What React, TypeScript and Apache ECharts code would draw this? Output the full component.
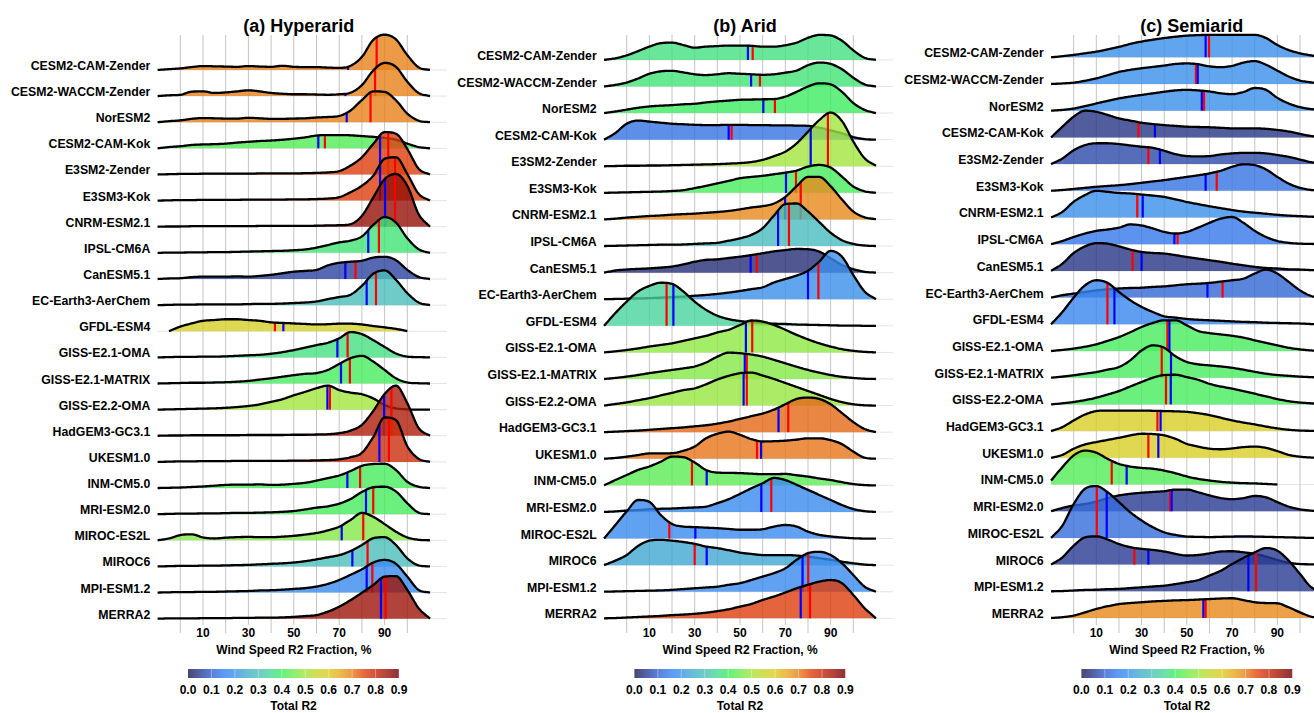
import React, { useEffect, useRef } from "react";
import * as echarts from "echarts";

const modelNames = [
  "CESM2-CAM-Zender", "CESM2-WACCM-Zender", "NorESM2", "CESM2-CAM-Kok", "E3SM2-Zender", "E3SM3-Kok",
  "CNRM-ESM2.1", "IPSL-CM6A", "CanESM5.1", "EC-Earth3-AerChem", "GFDL-ESM4", "GISS-E2.1-OMA",
  "GISS-E2.1-MATRIX", "GISS-E2.2-OMA", "HadGEM3-GC3.1", "UKESM1.0", "INM-CM5.0", "MRI-ESM2.0",
  "MIROC-ES2L", "MIROC6", "MPI-ESM1.2", "MERRA2",
];

const panelTitles = ["(a) Hyperarid", "(b) Arid", "(c) Semiarid"];
const xAxisTitle = "Wind Speed R2 Fraction, %";
const colorbarTitle = "Total R2";
const xTickLabels = [10, 30, 50, 70, 90];
const gridValues = [0, 10, 20, 30, 40, 50, 60, 70, 80, 90, 100];

// density sample positions (Wind Speed R2 Fraction, %)
const xSamples = [-10, -5, 0, 5, 10, 15, 20, 25, 30, 35, 40, 45, 50, 55, 60, 65, 70, 75, 80, 85, 90, 95, 100, 105, 110];

// ridge heights (in row units) at xSamples
const hyperaridDensity: (number | null)[][] = [
  [0, 0.03, 0.06, 0.11, 0.15, 0.14, 0.13, 0.12, 0.15, 0.13, 0.12, 0.16, 0.12, 0.11, 0.11, 0.09, 0.08, 0.16, 0.5, 1.15, 1.35, 1.17, 0.57, 0.1, 0],
  [0, 0.03, 0.05, 0.17, 0.18, 0.12, 0.14, 0.18, 0.22, 0.18, 0.12, 0.09, 0.07, 0.07, 0.06, 0.05, 0.07, 0.13, 0.42, 0.98, 1.27, 1.12, 0.55, 0.12, 0],
  [0, 0.04, 0.07, 0.13, 0.16, 0.15, 0.14, 0.14, 0.17, 0.15, 0.13, 0.13, 0.14, 0.15, 0.18, 0.2, 0.24, 0.45, 0.85, 1.18, 1.16, 0.84, 0.33, 0.06, 0],
  [0, 0.05, 0.08, 0.13, 0.15, 0.16, 0.18, 0.22, 0.25, 0.28, 0.3, 0.33, 0.37, 0.42, 0.49, 0.51, 0.51, 0.5, 0.47, 0.44, 0.4, 0.33, 0.18, 0.05, 0],
  [0, 0.01, 0.02, 0.02, 0.03, 0.03, 0.03, 0.03, 0.03, 0.04, 0.04, 0.04, 0.04, 0.05, 0.06, 0.08, 0.13, 0.34, 0.66, 1.17, 1.62, 1.56, 0.98, 0.22, 0],
  [0, 0.01, 0.02, 0.02, 0.03, 0.03, 0.03, 0.03, 0.04, 0.04, 0.04, 0.04, 0.05, 0.05, 0.06, 0.08, 0.13, 0.32, 0.57, 0.95, 1.6, 1.66, 1.02, 0.26, 0],
  [0, 0.01, 0.01, 0.02, 0.02, 0.02, 0.02, 0.02, 0.02, 0.03, 0.03, 0.03, 0.03, 0.03, 0.04, 0.05, 0.06, 0.1, 0.42, 1.12, 1.82, 2.02, 1.57, 0.48, 0],
  [0, 0.01, 0.01, 0.02, 0.02, 0.03, 0.03, 0.04, 0.05, 0.06, 0.07, 0.08, 0.1, 0.13, 0.2, 0.3, 0.4, 0.47, 0.63, 1.07, 1.37, 1.16, 0.56, 0.14, 0],
  [0, 0.02, 0.03, 0.07, 0.09, 0.09, 0.09, 0.1, 0.09, 0.12, 0.16, 0.22, 0.28, 0.31, 0.35, 0.52, 0.62, 0.66, 0.7, 0.82, 0.85, 0.72, 0.35, 0.08, 0],
  [0, 0.01, 0.02, 0.02, 0.03, 0.03, 0.03, 0.03, 0.04, 0.05, 0.05, 0.06, 0.08, 0.1, 0.14, 0.23, 0.31, 0.4, 0.74, 1.2, 1.33, 0.97, 0.46, 0.1, 0],
  [null, 0, 0.18, 0.3, 0.4, 0.43, 0.46, 0.46, 0.43, 0.4, 0.34, 0.32, 0.3, 0.28, 0.26, 0.27, 0.29, 0.29, 0.26, 0.2, 0.15, 0.09, 0.01, null, null],
  [0, 0.01, 0.02, 0.02, 0.03, 0.03, 0.04, 0.06, 0.08, 0.1, 0.14, 0.2, 0.28, 0.37, 0.47, 0.56, 0.73, 0.97, 0.89, 0.66, 0.4, 0.15, 0.03, 0.01, 0],
  [0, 0.01, 0.02, 0.03, 0.03, 0.04, 0.05, 0.07, 0.1, 0.15, 0.2, 0.26, 0.32, 0.37, 0.4, 0.52, 0.75, 0.97, 1.06, 0.84, 0.52, 0.2, 0.04, 0.01, 0],
  [0, 0.01, 0.02, 0.03, 0.04, 0.05, 0.07, 0.1, 0.14, 0.2, 0.3, 0.4, 0.55, 0.68, 0.82, 0.92, 0.75, 0.65, 0.59, 0.43, 0.18, 0.05, 0.01, 0, 0],
  [0, 0.01, 0.01, 0.02, 0.02, 0.02, 0.02, 0.02, 0.03, 0.03, 0.03, 0.03, 0.04, 0.04, 0.05, 0.06, 0.1, 0.2, 0.42, 0.95, 1.6, 1.92, 1.25, 0.3, 0],
  [0, 0.01, 0.02, 0.02, 0.03, 0.03, 0.03, 0.04, 0.04, 0.04, 0.04, 0.04, 0.05, 0.05, 0.06, 0.07, 0.1, 0.18, 0.35, 0.95, 1.7, 1.6, 0.6, 0.12, 0],
  [0, 0.01, 0.02, 0.04, 0.06, 0.09, 0.12, 0.13, 0.13, 0.14, 0.12, 0.13, 0.16, 0.2, 0.28, 0.38, 0.48, 0.65, 0.85, 0.92, 0.93, 0.69, 0.24, 0.05, 0],
  [0, 0.01, 0.02, 0.02, 0.03, 0.03, 0.04, 0.05, 0.05, 0.06, 0.07, 0.09, 0.12, 0.18, 0.25, 0.3, 0.4, 0.58, 0.85, 1.03, 1.05, 0.87, 0.42, 0.06, 0],
  [0, 0.07, 0.2, 0.23, 0.11, 0.07, 0.1, 0.12, 0.13, 0.12, 0.12, 0.14, 0.17, 0.22, 0.28, 0.38, 0.52, 0.78, 1.05, 0.9, 0.62, 0.33, 0.11, 0.02, 0],
  [0, 0.01, 0.02, 0.02, 0.03, 0.03, 0.04, 0.05, 0.06, 0.08, 0.1, 0.12, 0.15, 0.2, 0.27, 0.35, 0.43, 0.59, 0.82, 1.08, 1.12, 0.82, 0.31, 0.04, 0],
  [0, 0.01, 0.02, 0.02, 0.03, 0.03, 0.04, 0.05, 0.06, 0.08, 0.09, 0.11, 0.14, 0.17, 0.23, 0.33, 0.48, 0.68, 0.89, 1.15, 1.25, 1.1, 0.61, 0.1, 0],
  [0, 0.01, 0.01, 0.01, 0.02, 0.02, 0.02, 0.03, 0.03, 0.04, 0.04, 0.05, 0.07, 0.1, 0.14, 0.27, 0.46, 0.71, 0.99, 1.29, 1.61, 1.63, 1.1, 0.4, 0],
];
const hyperaridR2 = [0.7, 0.7, 0.7, 0.42, 0.76, 0.76, 0.86, 0.38, 0.06, 0.3, 0.58, 0.37, 0.41, 0.5, 0.83, 0.79, 0.41, 0.41, 0.47, 0.3, 0.18, 0.85];
const hyperaridRed = [86.5, 85.8, 83.8, 63.7, 91.6, 94.6, 94.6, 87.5, 77.2, 86.2, 41.7, 73.7, 74.7, 65.9, 93, 91.9, 79.2, 85, 80.6, 82.5, 84.6, 90.5];
const hyperaridBlue = [73.9, 72.7, 73.3, 60.8, 88, 88, 90.2, 82.8, 72.7, 82.1, 45.4, 69.2, 70.8, 64.8, 89.8, 87.7, 73.6, 81.8, 71.1, 75.8, 82.1, 88.4];

const aridDensity: (number | null)[][] = [
  [0, 0.06, 0.17, 0.33, 0.5, 0.63, 0.65, 0.56, 0.46, 0.5, 0.52, 0.54, 0.54, 0.53, 0.5, 0.5, 0.55, 0.65, 0.83, 0.94, 0.92, 0.72, 0.36, 0.08, 0],
  [0, 0.06, 0.15, 0.3, 0.48, 0.57, 0.59, 0.53, 0.46, 0.43, 0.46, 0.5, 0.48, 0.46, 0.44, 0.46, 0.52, 0.6, 0.8, 0.9, 0.85, 0.65, 0.33, 0.08, 0],
  [0, 0.06, 0.13, 0.2, 0.25, 0.28, 0.3, 0.33, 0.35, 0.4, 0.44, 0.47, 0.5, 0.51, 0.52, 0.53, 0.62, 0.8, 1.0, 1.12, 1.08, 0.8, 0.38, 0.12, 0],
  [0, 0.25, 0.6, 0.72, 0.68, 0.64, 0.6, 0.58, 0.56, 0.55, 0.55, 0.56, 0.56, 0.55, 0.55, 0.54, 0.54, 0.53, 0.52, 0.45, 0.35, 0.24, 0.1, 0.02, 0],
  [0, 0.01, 0.02, 0.02, 0.03, 0.03, 0.04, 0.05, 0.06, 0.07, 0.08, 0.1, 0.12, 0.16, 0.24, 0.38, 0.55, 0.86, 1.3, 1.74, 2.02, 1.7, 0.93, 0.3, 0.02],
  [0, 0.01, 0.02, 0.03, 0.04, 0.05, 0.07, 0.1, 0.18, 0.26, 0.36, 0.45, 0.55, 0.6, 0.64, 0.7, 0.76, 0.84, 0.99, 1.05, 0.95, 0.61, 0.24, 0.06, 0],
  [0, 0.03, 0.07, 0.1, 0.13, 0.15, 0.18, 0.2, 0.22, 0.25, 0.28, 0.32, 0.38, 0.45, 0.5, 0.6, 0.85, 1.25, 1.6, 1.6, 1.25, 0.75, 0.3, 0.08, 0.01],
  [0, 0.01, 0.02, 0.03, 0.04, 0.05, 0.05, 0.06, 0.08, 0.1, 0.12, 0.2, 0.29, 0.42, 0.67, 1.15, 1.58, 1.6, 1.3, 0.9, 0.5, 0.22, 0.08, 0.02, 0],
  [0, 0.08, 0.12, 0.14, 0.16, 0.19, 0.23, 0.31, 0.41, 0.48, 0.5, 0.55, 0.6, 0.66, 0.73, 0.8, 0.85, 0.89, 0.88, 0.79, 0.54, 0.29, 0.13, 0.03, 0],
  [0, 0.01, 0.02, 0.03, 0.04, 0.06, 0.08, 0.1, 0.13, 0.16, 0.2, 0.25, 0.31, 0.38, 0.45, 0.63, 0.76, 0.89, 1.07, 1.42, 1.82, 1.6, 0.91, 0.29, 0],
  [0, 0.48, 0.91, 1.29, 1.5, 1.62, 1.58, 1.29, 0.91, 0.6, 0.38, 0.25, 0.18, 0.13, 0.1, 0.08, 0.07, 0.05, 0.04, 0.03, 0.02, 0.01, 0.01, 0, 0],
  [0, 0.04, 0.09, 0.15, 0.22, 0.28, 0.34, 0.43, 0.53, 0.62, 0.75, 0.85, 1.03, 1.2, 1.16, 1.03, 0.85, 0.66, 0.49, 0.34, 0.22, 0.12, 0.06, 0.02, 0],
  [0, 0.04, 0.09, 0.15, 0.22, 0.28, 0.34, 0.4, 0.47, 0.62, 0.84, 0.99, 0.97, 0.92, 0.84, 0.72, 0.59, 0.46, 0.34, 0.24, 0.15, 0.08, 0.04, 0.01, 0],
  [0, 0.06, 0.12, 0.2, 0.28, 0.38, 0.48, 0.58, 0.65, 0.8, 0.98, 1.12, 1.22, 1.24, 1.13, 1.0, 0.85, 0.7, 0.55, 0.4, 0.25, 0.13, 0.05, 0.01, 0],
  [0, 0.02, 0.04, 0.06, 0.09, 0.12, 0.15, 0.18, 0.22, 0.26, 0.32, 0.4, 0.5, 0.6, 0.7, 0.85, 1.05, 1.25, 1.3, 1.25, 1.05, 0.72, 0.38, 0.12, 0],
  [0, 0.03, 0.08, 0.14, 0.2, 0.2, 0.21, 0.3, 0.46, 0.77, 0.94, 1.02, 0.9, 0.74, 0.65, 0.66, 0.68, 0.72, 0.77, 0.77, 0.7, 0.55, 0.27, 0.04, 0],
  [0, 0.2, 0.39, 0.58, 0.71, 0.89, 1.08, 1.06, 0.86, 0.58, 0.48, 0.47, 0.46, 0.44, 0.42, 0.42, 0.43, 0.38, 0.33, 0.26, 0.2, 0.12, 0.05, 0.01, 0],
  [0, 0.02, 0.05, 0.07, 0.1, 0.12, 0.13, 0.15, 0.17, 0.2, 0.33, 0.48, 0.68, 0.89, 1.08, 1.28, 1.2, 1.02, 0.83, 0.64, 0.45, 0.26, 0.11, 0.03, 0],
  [0, 0.51, 1.02, 1.45, 1.38, 0.89, 0.55, 0.45, 0.43, 0.41, 0.39, 0.36, 0.33, 0.33, 0.35, 0.45, 0.51, 0.45, 0.26, 0.14, 0.08, 0.04, 0.01, 0, 0],
  [0, 0.17, 0.38, 0.72, 0.92, 0.95, 0.92, 0.87, 0.8, 0.7, 0.64, 0.56, 0.47, 0.42, 0.38, 0.38, 0.38, 0.36, 0.32, 0.26, 0.2, 0.13, 0.07, 0.02, 0],
  [0, 0.01, 0.02, 0.03, 0.04, 0.05, 0.07, 0.1, 0.13, 0.16, 0.19, 0.26, 0.32, 0.44, 0.57, 0.7, 0.88, 1.2, 1.45, 1.5, 1.38, 1.07, 0.63, 0.19, 0],
  [0, 0.01, 0.03, 0.05, 0.07, 0.09, 0.12, 0.14, 0.17, 0.21, 0.27, 0.34, 0.44, 0.54, 0.69, 0.82, 0.97, 1.13, 1.26, 1.38, 1.44, 1.32, 0.88, 0.38, 0],
];
const aridR2 = [0.37, 0.38, 0.4, 0.13, 0.5, 0.41, 0.69, 0.29, 0.03, 0.19, 0.34, 0.48, 0.47, 0.49, 0.72, 0.71, 0.43, 0.18, 0.18, 0.24, 0.18, 0.76];
const aridRed = [55.6, 58.8, 65.4, 46.3, 88.8, 74.7, 76.8, 71.6, 57.4, 84.6, 17.6, 55.4, 53, 53, 71.3, 57.5, 28.8, 63.8, 18.8, 30, 80.1, 80.9];
const aridBlue = [53.5, 54.9, 60.3, 45, 81.2, 70.3, 69.9, 66.8, 54.7, 80, 20.6, 52.6, 52.1, 51.6, 67, 59.3, 35.3, 59.4, 30.3, 35.3, 77.6, 76.8];

const semiaridDensity: (number | null)[][] = [
  [0, 0.04, 0.09, 0.15, 0.21, 0.3, 0.39, 0.5, 0.59, 0.66, 0.72, 0.77, 0.81, 0.83, 0.84, 0.84, 0.84, 0.84, 0.84, 0.72, 0.46, 0.27, 0.15, 0.07, 0.02],
  [0, 0.02, 0.05, 0.12, 0.21, 0.33, 0.45, 0.53, 0.59, 0.64, 0.69, 0.75, 0.77, 0.74, 0.66, 0.63, 0.68, 0.8, 0.86, 0.72, 0.5, 0.28, 0.13, 0.06, 0.02],
  [0, 0.03, 0.08, 0.17, 0.27, 0.37, 0.46, 0.53, 0.59, 0.65, 0.71, 0.76, 0.78, 0.76, 0.72, 0.65, 0.62, 0.7, 0.85, 0.78, 0.48, 0.27, 0.13, 0.06, 0.02],
  [0, 0.4, 0.78, 1.0, 0.96, 0.84, 0.71, 0.63, 0.55, 0.5, 0.46, 0.43, 0.4, 0.39, 0.38, 0.36, 0.34, 0.34, 0.34, 0.32, 0.28, 0.22, 0.13, 0.05, 0.01],
  [0, 0.21, 0.52, 0.71, 0.78, 0.78, 0.75, 0.7, 0.65, 0.61, 0.5, 0.37, 0.3, 0.29, 0.3, 0.36, 0.4, 0.42, 0.42, 0.4, 0.34, 0.27, 0.17, 0.07, 0.02],
  [0, 0.03, 0.07, 0.11, 0.15, 0.18, 0.21, 0.25, 0.3, 0.35, 0.4, 0.46, 0.52, 0.58, 0.65, 0.75, 0.9, 0.99, 0.96, 0.8, 0.52, 0.27, 0.11, 0.03, 0.01],
  [0, 0.21, 0.59, 0.84, 1.0, 0.96, 0.92, 0.9, 0.86, 0.82, 0.77, 0.68, 0.58, 0.5, 0.42, 0.35, 0.28, 0.22, 0.18, 0.14, 0.1, 0.07, 0.05, 0.03, 0.02],
  [0, 0.12, 0.27, 0.4, 0.5, 0.55, 0.62, 0.74, 0.7, 0.59, 0.46, 0.4, 0.46, 0.62, 0.8, 0.96, 1.02, 0.8, 0.5, 0.27, 0.12, 0.05, 0.02, 0.01, 0],
  [0, 0.27, 0.67, 0.92, 1.04, 1.02, 0.92, 0.8, 0.71, 0.67, 0.65, 0.59, 0.52, 0.46, 0.4, 0.34, 0.27, 0.21, 0.15, 0.11, 0.09, 0.06, 0.05, 0.03, 0.02],
  [0, 0.09, 0.15, 0.21, 0.27, 0.31, 0.34, 0.36, 0.37, 0.4, 0.42, 0.46, 0.5, 0.52, 0.55, 0.6, 0.65, 0.71, 0.9, 1.05, 0.9, 0.59, 0.27, 0.06, 0.01],
  [0, 0.46, 1.0, 1.46, 1.65, 1.55, 1.21, 0.9, 0.65, 0.46, 0.3, 0.25, 0.2, 0.17, 0.15, 0.13, 0.11, 0.09, 0.08, 0.06, 0.05, 0.04, 0.03, 0.01, 0],
  [0, 0.04, 0.09, 0.16, 0.25, 0.38, 0.52, 0.7, 0.9, 1.05, 1.15, 1.15, 0.96, 0.75, 0.67, 0.62, 0.57, 0.5, 0.4, 0.3, 0.21, 0.12, 0.06, 0.02, 0],
  [0, 0.04, 0.09, 0.15, 0.21, 0.3, 0.4, 0.65, 1.02, 1.21, 1.12, 0.8, 0.59, 0.5, 0.46, 0.42, 0.37, 0.3, 0.22, 0.15, 0.1, 0.07, 0.04, 0.02, 0],
  [0, 0.04, 0.09, 0.16, 0.25, 0.37, 0.5, 0.67, 0.84, 1.0, 1.1, 1.11, 1.02, 0.92, 0.77, 0.67, 0.59, 0.5, 0.4, 0.3, 0.2, 0.12, 0.07, 0.04, 0.01],
  [0, 0.15, 0.4, 0.62, 0.75, 0.77, 0.77, 0.77, 0.77, 0.76, 0.75, 0.74, 0.72, 0.67, 0.6, 0.5, 0.4, 0.32, 0.25, 0.17, 0.1, 0.05, 0.02, 0.01, 0],
  [0, 0.11, 0.34, 0.5, 0.59, 0.67, 0.75, 0.84, 0.9, 0.89, 0.84, 0.71, 0.52, 0.42, 0.34, 0.32, 0.35, 0.4, 0.42, 0.37, 0.25, 0.11, 0.04, 0.01, 0],
  [0.15, 0.65, 1.09, 1.27, 1.19, 0.96, 0.77, 0.67, 0.62, 0.59, 0.52, 0.42, 0.3, 0.21, 0.15, 0.1, 0.07, 0.05, 0.04, 0.02, 0, null, null, null, null],
  [0, 0.12, 0.21, 0.27, 0.36, 0.49, 0.59, 0.65, 0.69, 0.72, 0.75, 0.81, 0.81, 0.71, 0.59, 0.49, 0.45, 0.49, 0.57, 0.52, 0.34, 0.17, 0.07, 0.02, 0],
  [0, 0.46, 1.27, 1.84, 1.94, 1.71, 1.34, 0.96, 0.65, 0.4, 0.21, 0.11, 0.05, 0.04, 0.03, 0.04, 0.05, 0.06, 0.05, 0.04, 0.03, 0.02, 0.01, 0, 0],
  [0, 0.27, 0.71, 1.02, 1.06, 0.94, 0.77, 0.65, 0.59, 0.55, 0.49, 0.4, 0.34, 0.36, 0.42, 0.49, 0.5, 0.46, 0.4, 0.3, 0.17, 0.07, 0.02, 0.01, 0],
  [0, 0.01, 0.03, 0.05, 0.06, 0.08, 0.09, 0.12, 0.15, 0.18, 0.21, 0.27, 0.34, 0.42, 0.59, 0.77, 1.02, 1.25, 1.46, 1.62, 1.52, 1.15, 0.65, 0.15, 0.02],
  [0, 0.03, 0.09, 0.21, 0.34, 0.44, 0.52, 0.56, 0.59, 0.62, 0.64, 0.66, 0.67, 0.69, 0.71, 0.73, 0.74, 0.67, 0.59, 0.56, 0.55, 0.4, 0.21, 0.05, 0],
];
const semiaridR2 = [0.19, 0.19, 0.19, 0.04, 0.07, 0.13, 0.19, 0.14, 0.04, 0.11, 0.17, 0.41, 0.41, 0.41, 0.59, 0.59, 0.42, 0.05, 0.12, 0.05, 0.05, 0.69];
const semiaridRed = [59.8, 54, 57.6, 28.6, 33, 63.2, 28.1, 45.9, 26, 65.8, 14.9, 41.4, 38.9, 40.8, 37, 33, 16.8, 42.6, 10.2, 26.8, 80.6, 58.3];
const semiaridBlue = [58.3, 54.8, 56.6, 35.9, 38.1, 58.3, 30.5, 44.5, 30, 59.1, 18, 42.3, 43, 42.9, 38.4, 37.4, 23.4, 43.3, 14.6, 33, 77.2, 57.3];

const colorbarTicks = [0, 0.1, 0.2, 0.3, 0.4, 0.5, 0.6, 0.7, 0.8, 0.9];

// colour scale for Total R2 (as seen on white)
const CMAP: [number, number[]][] = [
  [0.0, [75, 70, 112]], [0.05, [83, 98, 168]], [0.1, [90, 128, 214]], [0.15, [94, 152, 244]],
  [0.2, [98, 168, 238]], [0.25, [104, 190, 215]], [0.3, [110, 203, 200]], [0.35, [108, 224, 170]],
  [0.4, [100, 240, 128]], [0.45, [140, 240, 112]], [0.5, [180, 234, 100]], [0.55, [210, 222, 86]],
  [0.6, [228, 214, 80]], [0.65, [236, 186, 76]], [0.7, [236, 154, 72]], [0.75, [232, 104, 62]],
  [0.8, [208, 84, 60]], [0.85, [176, 68, 58]], [0.9, [140, 48, 56]],
];
const FONT = "'Liberation Sans', Arial, Helvetica, sans-serif";

function cmapRgb(v: number): number[] {
  if (v <= CMAP[0][0]) return CMAP[0][1];
  for (let i = 0; i < CMAP.length - 1; i++) {
    const [a, ca] = CMAP[i];
    const [b, cb] = CMAP[i + 1];
    if (v <= b) {
      const t = (v - a) / (b - a);
      return ca.map((c, k) => c + (cb[k] - c) * t);
    }
  }
  return CMAP[CMAP.length - 1][1];
}
function fillFor(v: number): string {
  const a = 0.8;
  const c = cmapRgb(v).map((ch) => Math.max(0, Math.min(255, Math.round((ch - 255 * (1 - a)) / a))));
  return `rgba(${c[0]},${c[1]},${c[2]},${a})`;
}

function makeInterp(xs: number[], ys: number[]) {
  const n = xs.length;
  const d: number[] = [];
  for (let i = 0; i < n - 1; i++) d.push((ys[i + 1] - ys[i]) / (xs[i + 1] - xs[i]));
  const m: number[] = new Array(n);
  m[0] = d[0];
  m[n - 1] = d[n - 2];
  for (let i = 1; i < n - 1; i++) m[i] = d[i - 1] * d[i] <= 0 ? 0 : (d[i - 1] + d[i]) / 2;
  for (let i = 0; i < n - 1; i++) {
    if (d[i] === 0) { m[i] = 0; m[i + 1] = 0; continue; }
    const a = m[i] / d[i], b = m[i + 1] / d[i];
    const s = a * a + b * b;
    if (s > 9) { const t = 3 / Math.sqrt(s); m[i] = t * a * d[i]; m[i + 1] = t * b * d[i]; }
  }
  return (x: number) => {
    if (x <= xs[0]) return ys[0];
    if (x >= xs[n - 1]) return ys[n - 1];
    let i = 0;
    while (x > xs[i + 1]) i++;
    const h = xs[i + 1] - xs[i];
    const t = (x - xs[i]) / h;
    const t2 = t * t, t3 = t2 * t;
    return (2 * t3 - 3 * t2 + 1) * ys[i] + (t3 - 2 * t2 + t) * h * m[i] + (-2 * t3 + 3 * t2) * ys[i + 1] + (t3 - t2) * h * m[i + 1];
  };
}

const panelData = [
  { title: panelTitles[0], density: hyperaridDensity, r2: hyperaridR2, red: hyperaridRed, blue: hyperaridBlue },
  { title: panelTitles[1], density: aridDensity, r2: aridR2, red: aridRed, blue: aridBlue },
  { title: panelTitles[2], density: semiaridDensity, r2: semiaridR2, red: semiaridRed, blue: semiaridBlue },
];
// layout
const layout = [
  { x0: 180.3, w: 227, yMin: -0.203, yMax: 22.338 },
  { x0: 626.7, w: 226.6, yMin: -0.214, yMax: 21.937 },
  { x0: 1073.7, w: 226.3, yMin: -0.225, yMax: 21.835 },
];
const GRID_TOP = 35;
const GRID_H = 589;
const NROW = modelNames.length;

function buildOption() {
  const grid: any[] = [];
  const xAxis: any[] = [];
  const yAxis: any[] = [];
  const series: any[] = [];
  const title: any[] = [];
  const labelStyle = { fontWeight: "bold", fontSize: 12, color: "#000", fontFamily: FONT };

  layout.forEach((L, p) => {
    grid.push({ left: L.x0, top: GRID_TOP, width: L.w, height: GRID_H });
    xAxis.push({
      type: "value", gridIndex: p, min: 0, max: 100, interval: 10,
      axisLine: { show: false }, axisTick: { show: false }, splitLine: { show: false },
      axisLabel: {
        margin: 3, ...labelStyle,
        formatter: (v: number) => (xTickLabels.includes(Math.round(v)) ? String(Math.round(v)) : ""),
      },
      name: xAxisTitle, nameLocation: "middle", nameGap: 18,
      nameTextStyle: { ...labelStyle },
    });
    yAxis.push({ type: "value", gridIndex: p, min: L.yMin, max: L.yMax, show: false });
    title.push({
      text: panelData[p].title, left: L.x0 + L.w / 2, top: 12, textAlign: "center",
      textStyle: { fontSize: 18, fontWeight: "bold", color: "#000", fontFamily: FONT },
    });
  });
  layout.forEach((L, p) => {
    grid.push({ left: L.x0 + 7.7, top: 669, width: 211, height: 13 });
    xAxis.push({
      type: "value", gridIndex: 3 + p, min: 0, max: 0.9, interval: 0.1,
      axisLine: { show: false }, axisTick: { show: false }, splitLine: { show: false },
      axisLabel: { margin: 6, ...labelStyle, showMinLabel: true, showMaxLabel: true, formatter: (v: number) => v.toFixed(1) },
      name: colorbarTitle, nameLocation: "middle", nameGap: 22,
      nameTextStyle: { ...labelStyle },
    });
    yAxis.push({ type: "value", gridIndex: 3 + p, min: 0, max: 1, show: false });
  });

  layout.forEach((L, p) => {
    const P = panelData[p];
    // grid lines
    series.push({
      type: "custom", xAxisIndex: p, yAxisIndex: p, clip: false, silent: true, z: 1,
      data: [[50, 0]],
      renderItem: (_params: any, api: any) => {
        const children: any[] = [];
        for (let r = 0; r < NROW; r++) {
          const a = api.coord([-10, NROW - 1 - r]);
          const b = api.coord([117.5, NROW - 1 - r]);
          children.push({ type: "line", shape: { x1: a[0], y1: a[1], x2: b[0], y2: b[1] }, style: { stroke: "#e4e4e4", lineWidth: 1 } });
        }
        gridValues.forEach((v) => {
          const t = api.coord([v, L.yMax]);
          const b = api.coord([v, L.yMin]);
          const ext = xTickLabels.includes(v) ? 1 : 9;
          children.push({ type: "line", shape: { x1: t[0], y1: t[1], x2: b[0], y2: b[1] + ext }, style: { stroke: "#c4c4c4", lineWidth: 1 } });
        });
        return { type: "group", children };
      },
    });
    // ridges
    series.push({
      type: "custom", xAxisIndex: p, yAxisIndex: p, clip: false, silent: true, z: 2,
      data: modelNames.map((_, i) => [50, NROW - 1 - i]),
      renderItem: (params: any, api: any) => {
        const r = params.dataIndex;
        const base = NROW - 1 - r;
        const xs: number[] = [];
        const ys: number[] = [];
        P.density[r].forEach((v, k) => { if (v !== null && v !== undefined) { xs.push(xSamples[k]); ys.push(v as number); } });
        const f = makeInterp(xs, ys);
        const top: number[][] = [];
        const x0 = xs[0], x1 = xs[xs.length - 1];
        for (let x = x0; x <= x1 + 1e-9; x += 0.5) top.push(api.coord([x, base + Math.max(0, f(x))]));
        const poly = [api.coord([x0, base]), ...top, api.coord([x1, base])];
        const children: any[] = [];
        const lab = api.coord([0, base]);
        children.push({
          type: "text", x: lab[0] - 30, y: lab[1] - 4,
          style: { text: modelNames[r], align: "right", verticalAlign: "middle", fontSize: 12.3, fontWeight: "bold", fontFamily: FONT, fill: "#000" },
        });
        children.push({ type: "polygon", shape: { points: poly }, style: { fill: fillFor(P.r2[r]), stroke: null } });
        const mk = (xv: number, color: string) => {
          const b = api.coord([xv, base]);
          const t = api.coord([xv, base + Math.max(0, f(xv))]);
          children.push({ type: "line", shape: { x1: b[0], y1: b[1], x2: t[0], y2: t[1] }, style: { stroke: color, lineWidth: 2.2 } });
        };
        mk(P.red[r], "#ff0000");
        mk(P.blue[r], "#0000ff");
        children.push({ type: "polyline", shape: { points: top }, style: { stroke: "#000", lineWidth: 2.3, fill: null, lineJoin: "round" } });
        return { type: "group", children };
      },
    });
    // colour bar
    series.push({
      type: "custom", xAxisIndex: 3 + p, yAxisIndex: 3 + p, clip: false, silent: true, z: 2,
      data: [[0, 0]],
      renderItem: (_params: any, api: any) => {
        const a = api.coord([0, 1]);
        const b = api.coord([0.9, 0]);
        const stops = CMAP.map(([v, c]) => ({ offset: v / 0.9, color: `rgb(${c.map((x) => Math.round(x)).join(",")})` }));
        const children: any[] = [
          { type: "rect", shape: { x: a[0], y: a[1], width: b[0] - a[0], height: b[1] - a[1] },
            style: { fill: new echarts.graphic.LinearGradient(0, 0, 1, 0, stops) } },
        ];
        colorbarTicks.slice(1).forEach((v) => {
          const t = api.coord([v, 1]);
          const bt = api.coord([v, 0]);
          children.push({ type: "line", shape: { x1: t[0], y1: t[1], x2: bt[0], y2: bt[1] }, style: { stroke: "rgba(255,255,255,0.35)", lineWidth: 1 } });
        });
        return { type: "group", children };
      },
    });
  });

  return {
    animation: false,
    backgroundColor: "#ffffff",
    textStyle: { fontFamily: FONT },
    title,
    grid,
    xAxis,
    yAxis,
    series,
  };
}

export default function App() {
  const ref = useRef<HTMLDivElement>(null);
  useEffect(() => {
    if (!ref.current) return;
    const chart = echarts.init(ref.current, undefined, { renderer: "svg" });
    chart.setOption(buildOption() as any);
    return () => chart.dispose();
  }, []);
  return <div ref={ref} style={{ position: "absolute", left: 0, top: 0, width: 1314, height: 713, background: "#fff" }} />;
}
